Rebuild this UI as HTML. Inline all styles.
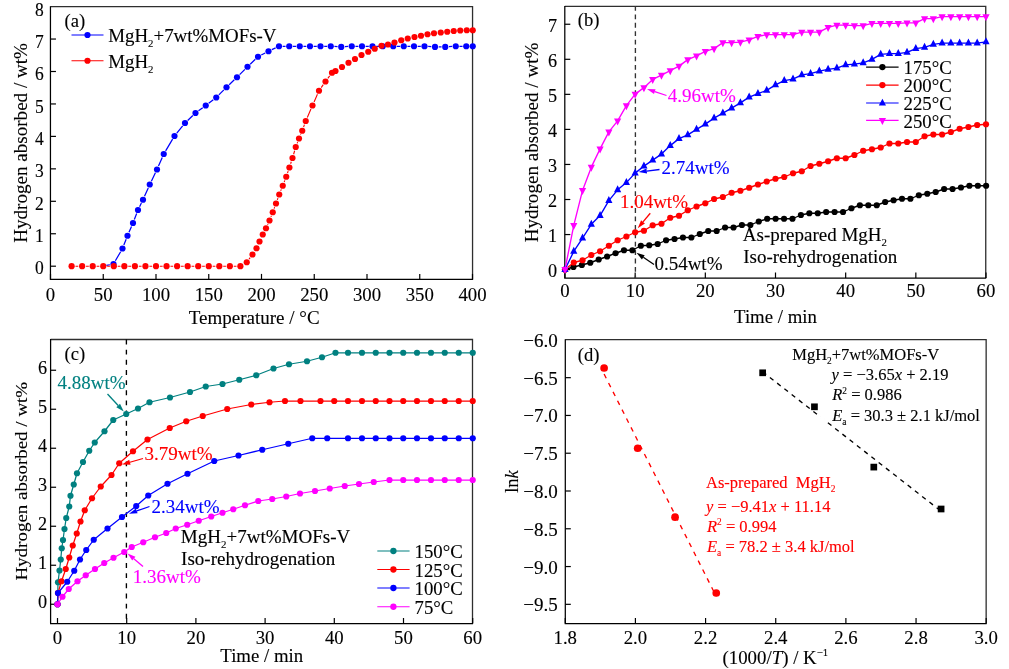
<!DOCTYPE html>
<html><head><meta charset="utf-8"><title>figure</title>
<style>html,body{margin:0;padding:0;background:#fff;}body{width:1009px;height:669px;overflow:hidden;font-family:"Liberation Serif",serif;}svg{display:block;will-change:transform;}</style>
</head><body>
<svg width="1009" height="669" viewBox="0 0 1009 669" font-family="Liberation Serif, serif">
<rect width="1009" height="669" fill="#fff"/>
<g id="pa">
<path d="M50.45 6.7H472.55V279.4" fill="none" stroke="#2e2e2e" stroke-width="1.3"/>
<path d="M50.45 6.2V279.4H473.05" fill="none" stroke="#000" stroke-width="1.25"/>
<line x1="50.5" y1="279.4" x2="50.5" y2="273.9" stroke="#000000" stroke-width="1.2" />
<text transform="translate(50.5,300.5) scale(1,1)" font-size="18.8" fill="#000000" stroke="#000000" stroke-width="0.12" text-anchor="middle">0</text>
<line x1="103.25" y1="279.4" x2="103.25" y2="273.9" stroke="#000000" stroke-width="1.2" />
<text transform="translate(103.25,300.5) scale(1,1)" font-size="18.8" fill="#000000" stroke="#000000" stroke-width="0.12" text-anchor="middle">50</text>
<line x1="156" y1="279.4" x2="156" y2="273.9" stroke="#000000" stroke-width="1.2" />
<text transform="translate(156,300.5) scale(1,1)" font-size="18.8" fill="#000000" stroke="#000000" stroke-width="0.12" text-anchor="middle">100</text>
<line x1="208.75" y1="279.4" x2="208.75" y2="273.9" stroke="#000000" stroke-width="1.2" />
<text transform="translate(208.75,300.5) scale(1,1)" font-size="18.8" fill="#000000" stroke="#000000" stroke-width="0.12" text-anchor="middle">150</text>
<line x1="261.5" y1="279.4" x2="261.5" y2="273.9" stroke="#000000" stroke-width="1.2" />
<text transform="translate(261.5,300.5) scale(1,1)" font-size="18.8" fill="#000000" stroke="#000000" stroke-width="0.12" text-anchor="middle">200</text>
<line x1="314.25" y1="279.4" x2="314.25" y2="273.9" stroke="#000000" stroke-width="1.2" />
<text transform="translate(314.25,300.5) scale(1,1)" font-size="18.8" fill="#000000" stroke="#000000" stroke-width="0.12" text-anchor="middle">250</text>
<line x1="367" y1="279.4" x2="367" y2="273.9" stroke="#000000" stroke-width="1.2" />
<text transform="translate(367,300.5) scale(1,1)" font-size="18.8" fill="#000000" stroke="#000000" stroke-width="0.12" text-anchor="middle">300</text>
<line x1="419.75" y1="279.4" x2="419.75" y2="273.9" stroke="#000000" stroke-width="1.2" />
<text transform="translate(419.75,300.5) scale(1,1)" font-size="18.8" fill="#000000" stroke="#000000" stroke-width="0.12" text-anchor="middle">350</text>
<line x1="472.5" y1="279.4" x2="472.5" y2="273.9" stroke="#000000" stroke-width="1.2" />
<text transform="translate(472.5,300.5) scale(1,1)" font-size="18.8" fill="#000000" stroke="#000000" stroke-width="0.12" text-anchor="middle">400</text>
<line x1="50.45" y1="266.2" x2="55.95" y2="266.2" stroke="#000000" stroke-width="1.2" />
<text transform="translate(43.8,274.41) scale(1,1.1)" font-size="17.5" fill="#000000" stroke="#000000" stroke-width="0.12" text-anchor="end">0</text>
<line x1="50.45" y1="233.75" x2="55.95" y2="233.75" stroke="#000000" stroke-width="1.2" />
<text transform="translate(43.8,242.07) scale(1,1.1)" font-size="17.5" fill="#000000" stroke="#000000" stroke-width="0.12" text-anchor="end">1</text>
<line x1="50.45" y1="201.3" x2="55.95" y2="201.3" stroke="#000000" stroke-width="1.2" />
<text transform="translate(43.8,209.73) scale(1,1.1)" font-size="17.5" fill="#000000" stroke="#000000" stroke-width="0.12" text-anchor="end">2</text>
<line x1="50.45" y1="168.85" x2="55.95" y2="168.85" stroke="#000000" stroke-width="1.2" />
<text transform="translate(43.8,177.39) scale(1,1.1)" font-size="17.5" fill="#000000" stroke="#000000" stroke-width="0.12" text-anchor="end">3</text>
<line x1="50.45" y1="136.4" x2="55.95" y2="136.4" stroke="#000000" stroke-width="1.2" />
<text transform="translate(43.8,145.05) scale(1,1.1)" font-size="17.5" fill="#000000" stroke="#000000" stroke-width="0.12" text-anchor="end">4</text>
<line x1="50.45" y1="103.95" x2="55.95" y2="103.95" stroke="#000000" stroke-width="1.2" />
<text transform="translate(43.8,112.71) scale(1,1.1)" font-size="17.5" fill="#000000" stroke="#000000" stroke-width="0.12" text-anchor="end">5</text>
<line x1="50.45" y1="71.5" x2="55.95" y2="71.5" stroke="#000000" stroke-width="1.2" />
<text transform="translate(43.8,80.37) scale(1,1.1)" font-size="17.5" fill="#000000" stroke="#000000" stroke-width="0.12" text-anchor="end">6</text>
<line x1="50.45" y1="39.05" x2="55.95" y2="39.05" stroke="#000000" stroke-width="1.2" />
<text transform="translate(43.8,48.03) scale(1,1.1)" font-size="17.5" fill="#000000" stroke="#000000" stroke-width="0.12" text-anchor="end">7</text>
<text transform="translate(43.8,15.69) scale(1,1.1)" font-size="17.5" fill="#000000" stroke="#000000" stroke-width="0.12" text-anchor="end">8</text>
<text transform="translate(254.2,324) scale(1,1)" font-size="19" fill="#000000" stroke="#000000" stroke-width="0.12" text-anchor="middle">Temperature / °C</text>
<text transform="translate(27,142.9) rotate(-90) scale(1,0.95)" font-size="19.1" fill="#000000" stroke="#000000" stroke-width="0.12" text-anchor="middle">Hydrogen absorbed / wt%</text>
<path d="M106.37 265.46L109.88 264.74M115.36 260.8L120.64 251.7M123.85 245.06L126.15 239.19M128.97 232.35L131.53 226.4M134.33 219.55L136.67 213.45M139.62 206.67L141.38 203.08M144.5 196.37L148.25 187.88M151.36 181.17L155.39 172.83M158.48 166.11L162.27 157.39M165.65 150.82L172.6 139.18M176.82 133.12L182.68 125.88M187.68 120.45L192.82 115.55M198.49 110.82L202.76 107.68M208.69 103.26L213.31 99.74M218.87 94.88L223.88 89.87M229.18 84.7L234.32 79.8M239.62 74.63L244.88 69.37M250.18 64.2L255.32 59.3M261.28 55.03L265.22 52.97M271.84 49.66L275.66 47.84M282.7 46.25L285.55 46.25M292.95 46.25L296.05 46.25M303.45 46.25L306.3 46.25M313.7 46.25L316.8 46.25M324.2 46.25L327.05 46.25M334.44 46.48L337.56 46.67M344.94 46.67L348.06 46.48M355.45 46.25L358.3 46.25M365.7 46.25L368.8 46.25M376.2 46.25L379.05 46.25M386.45 46.25L389.55 46.25M396.95 46.25L400.05 46.25M407.45 46.25L410.3 46.25M417.7 46.25L420.8 46.25M428.19 46.48L431.31 46.67M438.7 46.9L441.55 46.9M448.94 46.67L452.06 46.48M459.45 46.25L462.55 46.25" fill="none" stroke="#0000ff" stroke-width="1.25"/>
<g fill="#0000ff"><circle cx="113.5" cy="264" r="3.1"/><circle cx="122.5" cy="248.5" r="3.1"/><circle cx="127.5" cy="235.75" r="3.1"/><circle cx="133" cy="223" r="3.1"/><circle cx="138" cy="210" r="3.1"/><circle cx="143" cy="199.75" r="3.1"/><circle cx="149.75" cy="184.5" r="3.1"/><circle cx="157" cy="169.5" r="3.1"/><circle cx="163.75" cy="154" r="3.1"/><circle cx="174.5" cy="136" r="3.1"/><circle cx="185" cy="123" r="3.1"/><circle cx="195.5" cy="113" r="3.1"/><circle cx="205.75" cy="105.5" r="3.1"/><circle cx="216.25" cy="97.5" r="3.1"/><circle cx="226.5" cy="87.25" r="3.1"/><circle cx="237" cy="77.25" r="3.1"/><circle cx="247.5" cy="66.75" r="3.1"/><circle cx="258" cy="56.75" r="3.1"/><circle cx="268.5" cy="51.25" r="3.1"/><circle cx="279" cy="46.25" r="3.1"/><circle cx="289.25" cy="46.25" r="3.1"/><circle cx="299.75" cy="46.25" r="3.1"/><circle cx="310" cy="46.25" r="3.1"/><circle cx="320.5" cy="46.25" r="3.1"/><circle cx="330.75" cy="46.25" r="3.1"/><circle cx="341.25" cy="46.9" r="3.1"/><circle cx="351.75" cy="46.25" r="3.1"/><circle cx="362" cy="46.25" r="3.1"/><circle cx="372.5" cy="46.25" r="3.1"/><circle cx="382.75" cy="46.25" r="3.1"/><circle cx="393.25" cy="46.25" r="3.1"/><circle cx="403.75" cy="46.25" r="3.1"/><circle cx="414" cy="46.25" r="3.1"/><circle cx="424.5" cy="46.25" r="3.1"/><circle cx="435" cy="46.9" r="3.1"/><circle cx="445.25" cy="46.9" r="3.1"/><circle cx="455.75" cy="46.25" r="3.1"/><circle cx="466.25" cy="46.25" r="3.1"/><circle cx="472.75" cy="46.25" r="3.1"/></g>
<path d="M75.5 266.2L78.25 266.2M86.05 266.2L88.8 266.2M96.6 266.2L99.35 266.2M107.15 266.2L109.9 266.2M117.7 266.2L120.45 266.2M128.25 266.2L131 266.2M138.8 266.2L141.55 266.2M149.35 266.2L152.1 266.2M159.9 266.2L162.65 266.2M170.45 266.2L173.2 266.2M181 266.2L183.75 266.2M191.55 266.2L194.3 266.2M202.1 266.2L204.85 266.2M212.65 266.2L215.4 266.2M223.2 266.2L225.95 266.2M233.75 266.2L236.5 266.2M249.07 259.12L250.18 257.63M267.61 224.7L267.89 224.05M270.93 216.87L271.32 215.88M274.11 208.59L274.64 207.16M277.32 199.83L277.93 198.17M280.7 190.88L281.3 189.37M284.16 182.12L284.84 180.38M287.51 173.06L288.14 171.19M290.61 163.79L291.29 161.71M293.61 154.26L294.64 150.74M297.14 143.36L297.61 142.14M300.51 134.9L300.74 134.35M303.57 127.08L304.43 124.67M307.31 117.42L310.94 109.08M314.07 101.93L317.43 94.32M321.24 87.56L323.26 84.69M327.83 78.37L329.67 75.88" fill="none" stroke="#ff0000" stroke-width="1.1"/>
<g fill="#ff0000"><circle cx="71.6" cy="266.2" r="3.1"/><circle cx="82.15" cy="266.2" r="3.1"/><circle cx="92.7" cy="266.2" r="3.1"/><circle cx="103.25" cy="266.2" r="3.1"/><circle cx="113.8" cy="266.2" r="3.1"/><circle cx="124.35" cy="266.2" r="3.1"/><circle cx="134.9" cy="266.2" r="3.1"/><circle cx="145.45" cy="266.2" r="3.1"/><circle cx="156" cy="266.2" r="3.1"/><circle cx="166.55" cy="266.2" r="3.1"/><circle cx="177.1" cy="266.2" r="3.1"/><circle cx="187.65" cy="266.2" r="3.1"/><circle cx="198.2" cy="266.2" r="3.1"/><circle cx="208.75" cy="266.2" r="3.1"/><circle cx="219.3" cy="266.2" r="3.1"/><circle cx="229.85" cy="266.2" r="3.1"/><circle cx="240.4" cy="266.2" r="3.1"/><circle cx="246.75" cy="262.25" r="3.1"/><circle cx="252.5" cy="254.5" r="3.1"/><circle cx="256.5" cy="248.25" r="3.1"/><circle cx="259.5" cy="241.5" r="3.1"/><circle cx="262.75" cy="234.5" r="3.1"/><circle cx="266" cy="228.25" r="3.1"/><circle cx="269.5" cy="220.5" r="3.1"/><circle cx="272.75" cy="212.25" r="3.1"/><circle cx="276" cy="203.5" r="3.1"/><circle cx="279.25" cy="194.5" r="3.1"/><circle cx="282.75" cy="185.75" r="3.1"/><circle cx="286.25" cy="176.75" r="3.1"/><circle cx="289.4" cy="167.5" r="3.1"/><circle cx="292.5" cy="158" r="3.1"/><circle cx="295.75" cy="147" r="3.1"/><circle cx="299" cy="138.5" r="3.1"/><circle cx="302.25" cy="130.75" r="3.1"/><circle cx="305.75" cy="121" r="3.1"/><circle cx="312.5" cy="105.5" r="3.1"/><circle cx="319" cy="90.75" r="3.1"/><circle cx="325.5" cy="81.5" r="3.1"/><circle cx="332" cy="72.75" r="3.1"/><circle cx="335.5" cy="71" r="3.1"/><circle cx="342" cy="67" r="3.1"/><circle cx="348.5" cy="62.75" r="3.1"/><circle cx="355" cy="59" r="3.1"/><circle cx="361.5" cy="55" r="3.1"/><circle cx="368.25" cy="51.75" r="3.1"/><circle cx="374.75" cy="48.75" r="3.1"/><circle cx="381.5" cy="45.75" r="3.1"/><circle cx="388" cy="44.5" r="3.1"/><circle cx="394.5" cy="42.5" r="3.1"/><circle cx="401.25" cy="40.25" r="3.1"/><circle cx="407.75" cy="38.5" r="3.1"/><circle cx="414.5" cy="37" r="3.1"/><circle cx="421" cy="35.75" r="3.1"/><circle cx="427.5" cy="34.25" r="3.1"/><circle cx="434" cy="33.25" r="3.1"/><circle cx="440.75" cy="32.5" r="3.1"/><circle cx="447.25" cy="31.75" r="3.1"/><circle cx="453.75" cy="31" r="3.1"/><circle cx="460.25" cy="30.5" r="3.1"/><circle cx="466.75" cy="30.25" r="3.1"/><circle cx="472.75" cy="30.25" r="3.1"/></g>
<text transform="translate(64.5,26.5) scale(1,1)" font-size="18.6" fill="#000000" stroke="#000000" stroke-width="0.12" text-anchor="start">(a)</text>
<line x1="71.5" y1="35" x2="103.5" y2="35" stroke="#0000ff" stroke-width="1.1" />
<g fill="#0000ff"><circle cx="87.5" cy="35" r="3.1"/></g>
<line x1="71.5" y1="60.75" x2="103.5" y2="60.75" stroke="#ff0000" stroke-width="1.1" />
<g fill="#ff0000"><circle cx="87.5" cy="60.75" r="3.1"/></g>
<text transform="translate(108.2,42.1) scale(1,1)" font-size="18.9" fill="#000000" stroke="#000000" stroke-width="0.12" text-anchor="start">MgH<tspan font-size="10.77" dy="4.82">2</tspan><tspan dy="-4.82" font-size="18.9">&#8203;</tspan>+7wt%MOFs-V</text>
<text transform="translate(108.2,67.8) scale(1,1)" font-size="18.9" fill="#000000" stroke="#000000" stroke-width="0.12" text-anchor="start">MgH<tspan font-size="10.77" dy="4.82">2</tspan><tspan dy="-4.82" font-size="18.9">&#8203;</tspan></text>
</g>
<g id="pb">
<path d="M564.8 6.4H985.75V278" fill="none" stroke="#2e2e2e" stroke-width="1.3"/>
<path d="M564.8 5.9V278H986.25" fill="none" stroke="#000" stroke-width="1.25"/>
<line x1="565" y1="278" x2="565" y2="272.5" stroke="#000000" stroke-width="1.2" />
<text transform="translate(565,297) scale(1,1)" font-size="18.8" fill="#000000" stroke="#000000" stroke-width="0.12" text-anchor="middle">0</text>
<line x1="635.17" y1="278" x2="635.17" y2="272.5" stroke="#000000" stroke-width="1.2" />
<text transform="translate(635.17,297) scale(1,1)" font-size="18.8" fill="#000000" stroke="#000000" stroke-width="0.12" text-anchor="middle">10</text>
<line x1="705.33" y1="278" x2="705.33" y2="272.5" stroke="#000000" stroke-width="1.2" />
<text transform="translate(705.33,297) scale(1,1)" font-size="18.8" fill="#000000" stroke="#000000" stroke-width="0.12" text-anchor="middle">20</text>
<line x1="775.5" y1="278" x2="775.5" y2="272.5" stroke="#000000" stroke-width="1.2" />
<text transform="translate(775.5,297) scale(1,1)" font-size="18.8" fill="#000000" stroke="#000000" stroke-width="0.12" text-anchor="middle">30</text>
<line x1="845.67" y1="278" x2="845.67" y2="272.5" stroke="#000000" stroke-width="1.2" />
<text transform="translate(845.67,297) scale(1,1)" font-size="18.8" fill="#000000" stroke="#000000" stroke-width="0.12" text-anchor="middle">40</text>
<line x1="915.84" y1="278" x2="915.84" y2="272.5" stroke="#000000" stroke-width="1.2" />
<text transform="translate(915.84,297) scale(1,1)" font-size="18.8" fill="#000000" stroke="#000000" stroke-width="0.12" text-anchor="middle">50</text>
<line x1="986" y1="278" x2="986" y2="272.5" stroke="#000000" stroke-width="1.2" />
<text transform="translate(986,297) scale(1,1)" font-size="18.8" fill="#000000" stroke="#000000" stroke-width="0.12" text-anchor="middle">60</text>
<line x1="564.8" y1="269.6" x2="570.3" y2="269.6" stroke="#000000" stroke-width="1.2" />
<text transform="translate(557.1,277.05) scale(1.04,1.09)" font-size="17.5" fill="#000000" stroke="#000000" stroke-width="0.12" text-anchor="end">0</text>
<line x1="564.8" y1="234.55" x2="570.3" y2="234.55" stroke="#000000" stroke-width="1.2" />
<text transform="translate(557.1,242) scale(1.04,1.09)" font-size="17.5" fill="#000000" stroke="#000000" stroke-width="0.12" text-anchor="end">1</text>
<line x1="564.8" y1="199.5" x2="570.3" y2="199.5" stroke="#000000" stroke-width="1.2" />
<text transform="translate(557.1,206.95) scale(1.04,1.09)" font-size="17.5" fill="#000000" stroke="#000000" stroke-width="0.12" text-anchor="end">2</text>
<line x1="564.8" y1="164.45" x2="570.3" y2="164.45" stroke="#000000" stroke-width="1.2" />
<text transform="translate(557.1,171.9) scale(1.04,1.09)" font-size="17.5" fill="#000000" stroke="#000000" stroke-width="0.12" text-anchor="end">3</text>
<line x1="564.8" y1="129.4" x2="570.3" y2="129.4" stroke="#000000" stroke-width="1.2" />
<text transform="translate(557.1,136.85) scale(1.04,1.09)" font-size="17.5" fill="#000000" stroke="#000000" stroke-width="0.12" text-anchor="end">4</text>
<line x1="564.8" y1="94.35" x2="570.3" y2="94.35" stroke="#000000" stroke-width="1.2" />
<text transform="translate(557.1,101.8) scale(1.04,1.09)" font-size="17.5" fill="#000000" stroke="#000000" stroke-width="0.12" text-anchor="end">5</text>
<line x1="564.8" y1="59.3" x2="570.3" y2="59.3" stroke="#000000" stroke-width="1.2" />
<text transform="translate(557.1,66.75) scale(1.04,1.09)" font-size="17.5" fill="#000000" stroke="#000000" stroke-width="0.12" text-anchor="end">6</text>
<line x1="564.8" y1="24.25" x2="570.3" y2="24.25" stroke="#000000" stroke-width="1.2" />
<text transform="translate(557.1,31.7) scale(1.04,1.09)" font-size="17.5" fill="#000000" stroke="#000000" stroke-width="0.12" text-anchor="end">7</text>
<text transform="translate(775.5,323.2) scale(1,1)" font-size="18.8" fill="#000000" stroke="#000000" stroke-width="0.12" text-anchor="middle">Time / min</text>
<text transform="translate(538.2,142.5) rotate(-90) scale(1,0.94)" font-size="19.1" fill="#000000" stroke="#000000" stroke-width="0.12" text-anchor="middle">Hydrogen absorbed / wt%</text>
<line x1="635.4" y1="6.4" x2="635.4" y2="278" stroke="#333" stroke-width="1.35" stroke-dasharray="4.8 3.62" stroke-dashoffset="0.4"/>
<polyline points="565,269.5 573.42,267 581.85,265 590.27,262.75 598.7,259.5 607.12,256.5 615.55,253.25 623.98,250.25 632.4,250.25 640.83,245.75 649.25,245.25 657.67,244 666.1,240.25 674.52,239 682.95,237.5 691.38,237.5 699.8,234 708.23,231 716.65,231 725.08,227.5 733.5,227.5 741.92,225 750.35,225 758.77,221.5 767.2,218.75 775.62,218.75 784.05,218.75 792.48,218.75 800.9,215 809.33,213.25 817.75,213.25 826.17,212 834.6,212 843.03,212 851.45,208.25 859.88,205.25 868.3,205.25 876.73,205.25 885.15,202 893.58,200.25 902,198.75 910.42,198.75 918.85,195.25 927.28,193.75 935.7,192 944.12,189 952.55,189 960.98,187.5 969.4,185.75 977.83,185.75 986.1,185.75" fill="none" stroke="#000000" stroke-width="1.35" stroke-linejoin="round"/>
<g fill="#000000"><circle cx="565" cy="269.5" r="3.1"/><circle cx="573.42" cy="267" r="3.1"/><circle cx="581.85" cy="265" r="3.1"/><circle cx="590.27" cy="262.75" r="3.1"/><circle cx="598.7" cy="259.5" r="3.1"/><circle cx="607.12" cy="256.5" r="3.1"/><circle cx="615.55" cy="253.25" r="3.1"/><circle cx="623.98" cy="250.25" r="3.1"/><circle cx="632.4" cy="250.25" r="3.1"/><circle cx="640.83" cy="245.75" r="3.1"/><circle cx="649.25" cy="245.25" r="3.1"/><circle cx="657.67" cy="244" r="3.1"/><circle cx="666.1" cy="240.25" r="3.1"/><circle cx="674.52" cy="239" r="3.1"/><circle cx="682.95" cy="237.5" r="3.1"/><circle cx="691.38" cy="237.5" r="3.1"/><circle cx="699.8" cy="234" r="3.1"/><circle cx="708.23" cy="231" r="3.1"/><circle cx="716.65" cy="231" r="3.1"/><circle cx="725.08" cy="227.5" r="3.1"/><circle cx="733.5" cy="227.5" r="3.1"/><circle cx="741.92" cy="225" r="3.1"/><circle cx="750.35" cy="225" r="3.1"/><circle cx="758.77" cy="221.5" r="3.1"/><circle cx="767.2" cy="218.75" r="3.1"/><circle cx="775.62" cy="218.75" r="3.1"/><circle cx="784.05" cy="218.75" r="3.1"/><circle cx="792.48" cy="218.75" r="3.1"/><circle cx="800.9" cy="215" r="3.1"/><circle cx="809.33" cy="213.25" r="3.1"/><circle cx="817.75" cy="213.25" r="3.1"/><circle cx="826.17" cy="212" r="3.1"/><circle cx="834.6" cy="212" r="3.1"/><circle cx="843.03" cy="212" r="3.1"/><circle cx="851.45" cy="208.25" r="3.1"/><circle cx="859.88" cy="205.25" r="3.1"/><circle cx="868.3" cy="205.25" r="3.1"/><circle cx="876.73" cy="205.25" r="3.1"/><circle cx="885.15" cy="202" r="3.1"/><circle cx="893.58" cy="200.25" r="3.1"/><circle cx="902" cy="198.75" r="3.1"/><circle cx="910.42" cy="198.75" r="3.1"/><circle cx="918.85" cy="195.25" r="3.1"/><circle cx="927.28" cy="193.75" r="3.1"/><circle cx="935.7" cy="192" r="3.1"/><circle cx="944.12" cy="189" r="3.1"/><circle cx="952.55" cy="189" r="3.1"/><circle cx="960.98" cy="187.5" r="3.1"/><circle cx="969.4" cy="185.75" r="3.1"/><circle cx="977.83" cy="185.75" r="3.1"/><circle cx="986.1" cy="185.75" r="3.1"/></g>
<polyline points="565,269.5 573.77,262.5 582.54,260.25 591.31,255 600.08,251.25 608.85,245.75 617.62,240.25 626.39,236.5 635.16,232.25 643.93,230.75 652.7,225.25 661.47,223.75 670.24,217.75 679.01,215.75 687.78,210.25 696.55,206.5 705.32,203.25 714.09,199 722.86,197 731.63,192.75 740.4,190.75 749.17,187.75 757.94,184.5 766.71,181.5 775.48,178.75 784.25,177 793.02,173.25 801.79,171.25 810.56,166 819.33,163.75 828.1,161.25 836.87,158.25 845.64,158.25 854.41,155 863.18,150.75 871.95,149.25 880.72,147.5 889.49,143.5 898.26,143.5 907.03,142 915.8,142 924.57,136.25 933.34,134.5 942.11,134.5 950.88,132 959.65,128.75 968.42,127 977.19,125 986,124.25" fill="none" stroke="#ff0000" stroke-width="1.35" stroke-linejoin="round"/>
<g fill="#ff0000"><circle cx="565" cy="269.5" r="3.1"/><circle cx="573.77" cy="262.5" r="3.1"/><circle cx="582.54" cy="260.25" r="3.1"/><circle cx="591.31" cy="255" r="3.1"/><circle cx="600.08" cy="251.25" r="3.1"/><circle cx="608.85" cy="245.75" r="3.1"/><circle cx="617.62" cy="240.25" r="3.1"/><circle cx="626.39" cy="236.5" r="3.1"/><circle cx="635.16" cy="232.25" r="3.1"/><circle cx="643.93" cy="230.75" r="3.1"/><circle cx="652.7" cy="225.25" r="3.1"/><circle cx="661.47" cy="223.75" r="3.1"/><circle cx="670.24" cy="217.75" r="3.1"/><circle cx="679.01" cy="215.75" r="3.1"/><circle cx="687.78" cy="210.25" r="3.1"/><circle cx="696.55" cy="206.5" r="3.1"/><circle cx="705.32" cy="203.25" r="3.1"/><circle cx="714.09" cy="199" r="3.1"/><circle cx="722.86" cy="197" r="3.1"/><circle cx="731.63" cy="192.75" r="3.1"/><circle cx="740.4" cy="190.75" r="3.1"/><circle cx="749.17" cy="187.75" r="3.1"/><circle cx="757.94" cy="184.5" r="3.1"/><circle cx="766.71" cy="181.5" r="3.1"/><circle cx="775.48" cy="178.75" r="3.1"/><circle cx="784.25" cy="177" r="3.1"/><circle cx="793.02" cy="173.25" r="3.1"/><circle cx="801.79" cy="171.25" r="3.1"/><circle cx="810.56" cy="166" r="3.1"/><circle cx="819.33" cy="163.75" r="3.1"/><circle cx="828.1" cy="161.25" r="3.1"/><circle cx="836.87" cy="158.25" r="3.1"/><circle cx="845.64" cy="158.25" r="3.1"/><circle cx="854.41" cy="155" r="3.1"/><circle cx="863.18" cy="150.75" r="3.1"/><circle cx="871.95" cy="149.25" r="3.1"/><circle cx="880.72" cy="147.5" r="3.1"/><circle cx="889.49" cy="143.5" r="3.1"/><circle cx="898.26" cy="143.5" r="3.1"/><circle cx="907.03" cy="142" r="3.1"/><circle cx="915.8" cy="142" r="3.1"/><circle cx="924.57" cy="136.25" r="3.1"/><circle cx="933.34" cy="134.5" r="3.1"/><circle cx="942.11" cy="134.5" r="3.1"/><circle cx="950.88" cy="132" r="3.1"/><circle cx="959.65" cy="128.75" r="3.1"/><circle cx="968.42" cy="127" r="3.1"/><circle cx="977.19" cy="125" r="3.1"/><circle cx="986" cy="124.25" r="3.1"/></g>
<polyline points="565,269.55 573.77,251.35 582.54,238.1 591.31,224.35 600.08,215.6 608.85,200.6 617.62,189.85 626.39,182.6 635.16,173.1 643.93,166.1 652.7,160.1 661.47,154.1 670.24,145.6 679.01,138.6 687.78,134.85 696.55,129.35 705.32,124.1 714.09,118.1 722.86,113.1 731.63,108.1 740.4,102.85 749.17,97.1 757.94,93.6 766.71,90.35 775.48,84.85 784.25,80.6 793.02,79.1 801.79,74.85 810.56,73.6 819.33,71.1 828.1,69.35 836.87,68.1 845.64,64.85 854.41,64.1 863.18,62.85 871.95,59.35 880.72,54.35 889.49,53.6 898.26,53.6 907.03,52.35 915.8,48.6 924.57,47.35 933.34,44.35 942.11,43.1 950.88,43.1 959.65,43.1 968.42,43.1 977.19,43.1 986,41.85" fill="none" stroke="#0000ff" stroke-width="1.35" stroke-linejoin="round"/>
<path d="M565 265L568.6 271.9L561.4 271.9ZM573.77 246.8L577.37 253.7L570.17 253.7ZM582.54 233.55L586.14 240.45L578.94 240.45ZM591.31 219.8L594.91 226.7L587.71 226.7ZM600.08 211.05L603.68 217.95L596.48 217.95ZM608.85 196.05L612.45 202.95L605.25 202.95ZM617.62 185.3L621.22 192.2L614.02 192.2ZM626.39 178.05L629.99 184.95L622.79 184.95ZM635.16 168.55L638.76 175.45L631.56 175.45ZM643.93 161.55L647.53 168.45L640.33 168.45ZM652.7 155.55L656.3 162.45L649.1 162.45ZM661.47 149.55L665.07 156.45L657.87 156.45ZM670.24 141.05L673.84 147.95L666.64 147.95ZM679.01 134.05L682.61 140.95L675.41 140.95ZM687.78 130.3L691.38 137.2L684.18 137.2ZM696.55 124.8L700.15 131.7L692.95 131.7ZM705.32 119.55L708.92 126.45L701.72 126.45ZM714.09 113.55L717.69 120.45L710.49 120.45ZM722.86 108.55L726.46 115.45L719.26 115.45ZM731.63 103.55L735.23 110.45L728.03 110.45ZM740.4 98.3L744 105.2L736.8 105.2ZM749.17 92.55L752.77 99.45L745.57 99.45ZM757.94 89.05L761.54 95.95L754.34 95.95ZM766.71 85.8L770.31 92.7L763.11 92.7ZM775.48 80.3L779.08 87.2L771.88 87.2ZM784.25 76.05L787.85 82.95L780.65 82.95ZM793.02 74.55L796.62 81.45L789.42 81.45ZM801.79 70.3L805.39 77.2L798.19 77.2ZM810.56 69.05L814.16 75.95L806.96 75.95ZM819.33 66.55L822.93 73.45L815.73 73.45ZM828.1 64.8L831.7 71.7L824.5 71.7ZM836.87 63.55L840.47 70.45L833.27 70.45ZM845.64 60.3L849.24 67.2L842.04 67.2ZM854.41 59.55L858.01 66.45L850.81 66.45ZM863.18 58.3L866.78 65.2L859.58 65.2ZM871.95 54.8L875.55 61.7L868.35 61.7ZM880.72 49.8L884.32 56.7L877.12 56.7ZM889.49 49.05L893.09 55.95L885.89 55.95ZM898.26 49.05L901.86 55.95L894.66 55.95ZM907.03 47.8L910.63 54.7L903.43 54.7ZM915.8 44.05L919.4 50.95L912.2 50.95ZM924.57 42.8L928.17 49.7L920.97 49.7ZM933.34 39.8L936.94 46.7L929.74 46.7ZM942.11 38.55L945.71 45.45L938.51 45.45ZM950.88 38.55L954.48 45.45L947.28 45.45ZM959.65 38.55L963.25 45.45L956.05 45.45ZM968.42 38.55L972.02 45.45L964.82 45.45ZM977.19 38.55L980.79 45.45L973.59 45.45ZM986 37.3L989.6 44.2L982.4 44.2Z" fill="#0000ff"/>
<polyline points="565,269.45 573.77,225.4 582.54,190.4 591.31,167.15 600.08,148.9 608.85,131.9 617.62,120.9 626.39,105.65 635.16,94.15 643.93,87.65 652.7,79.4 661.47,75.15 670.24,70.65 679.01,66.15 687.78,59.65 696.55,55.9 705.32,51.4 714.09,48.65 722.86,42.65 731.63,42.65 740.4,42.15 749.17,39.9 757.94,36.4 766.71,34.65 775.48,34.65 784.25,34.65 793.02,34.65 801.79,32.15 810.56,32.15 819.33,32.15 828.1,27.4 836.87,25.15 845.64,25.15 854.41,25.65 863.18,25.65 871.95,23.4 880.72,23.4 889.49,23.4 898.26,23.4 907.03,22.9 915.8,22.9 924.57,18.65 933.34,18.65 942.11,16.65 950.88,16.65 959.65,16.65 968.42,16.65 977.19,16.65 986,16.65" fill="none" stroke="#ff00ff" stroke-width="1.35" stroke-linejoin="round"/>
<path d="M565 274L568.6 267.1L561.4 267.1ZM573.77 229.95L577.37 223.05L570.17 223.05ZM582.54 194.95L586.14 188.05L578.94 188.05ZM591.31 171.7L594.91 164.8L587.71 164.8ZM600.08 153.45L603.68 146.55L596.48 146.55ZM608.85 136.45L612.45 129.55L605.25 129.55ZM617.62 125.45L621.22 118.55L614.02 118.55ZM626.39 110.2L629.99 103.3L622.79 103.3ZM635.16 98.7L638.76 91.8L631.56 91.8ZM643.93 92.2L647.53 85.3L640.33 85.3ZM652.7 83.95L656.3 77.05L649.1 77.05ZM661.47 79.7L665.07 72.8L657.87 72.8ZM670.24 75.2L673.84 68.3L666.64 68.3ZM679.01 70.7L682.61 63.8L675.41 63.8ZM687.78 64.2L691.38 57.3L684.18 57.3ZM696.55 60.45L700.15 53.55L692.95 53.55ZM705.32 55.95L708.92 49.05L701.72 49.05ZM714.09 53.2L717.69 46.3L710.49 46.3ZM722.86 47.2L726.46 40.3L719.26 40.3ZM731.63 47.2L735.23 40.3L728.03 40.3ZM740.4 46.7L744 39.8L736.8 39.8ZM749.17 44.45L752.77 37.55L745.57 37.55ZM757.94 40.95L761.54 34.05L754.34 34.05ZM766.71 39.2L770.31 32.3L763.11 32.3ZM775.48 39.2L779.08 32.3L771.88 32.3ZM784.25 39.2L787.85 32.3L780.65 32.3ZM793.02 39.2L796.62 32.3L789.42 32.3ZM801.79 36.7L805.39 29.8L798.19 29.8ZM810.56 36.7L814.16 29.8L806.96 29.8ZM819.33 36.7L822.93 29.8L815.73 29.8ZM828.1 31.95L831.7 25.05L824.5 25.05ZM836.87 29.7L840.47 22.8L833.27 22.8ZM845.64 29.7L849.24 22.8L842.04 22.8ZM854.41 30.2L858.01 23.3L850.81 23.3ZM863.18 30.2L866.78 23.3L859.58 23.3ZM871.95 27.95L875.55 21.05L868.35 21.05ZM880.72 27.95L884.32 21.05L877.12 21.05ZM889.49 27.95L893.09 21.05L885.89 21.05ZM898.26 27.95L901.86 21.05L894.66 21.05ZM907.03 27.45L910.63 20.55L903.43 20.55ZM915.8 27.45L919.4 20.55L912.2 20.55ZM924.57 23.2L928.17 16.3L920.97 16.3ZM933.34 23.2L936.94 16.3L929.74 16.3ZM942.11 21.2L945.71 14.3L938.51 14.3ZM950.88 21.2L954.48 14.3L947.28 14.3ZM959.65 21.2L963.25 14.3L956.05 14.3ZM968.42 21.2L972.02 14.3L964.82 14.3ZM977.19 21.2L980.79 14.3L973.59 14.3ZM986 21.2L989.6 14.3L982.4 14.3Z" fill="#ff00ff"/>
<text transform="translate(577.75,26.25) scale(1,1)" font-size="18.6" fill="#000000" stroke="#000000" stroke-width="0.12" text-anchor="start">(b)</text>
<text transform="translate(667.75,102.4) scale(1,1)" font-size="19" fill="#ff00ff" stroke="#ff00ff" stroke-width="0.12" text-anchor="start">4.96wt%</text>
<line x1="666.5" y1="95.5" x2="654.79" y2="91.66" stroke="#ff00ff" stroke-width="1.3" />
<path d="M647 89.1L655.57 89.28L654.01 94.03Z" fill="#ff00ff"/>
<text transform="translate(661.5,173.5) scale(1,1)" font-size="19" fill="#0000ff" stroke="#0000ff" stroke-width="0.12" text-anchor="start">2.74wt%</text>
<line x1="659.5" y1="169.5" x2="646.74" y2="171.03" stroke="#0000ff" stroke-width="1.3" />
<path d="M638.6 172L646.45 168.54L647.04 173.51Z" fill="#0000ff"/>
<text transform="translate(619.9,207.75) scale(1,1)" font-size="19" fill="#ff0000" stroke="#ff0000" stroke-width="0.12" text-anchor="start">1.04wt%</text>
<line x1="650.25" y1="213.25" x2="643" y2="221.95" stroke="#ff0000" stroke-width="1.3" />
<path d="M637.75 228.25L641.08 220.35L644.92 223.55Z" fill="#ff0000"/>
<text transform="translate(654.4,270.25) scale(1,1)" font-size="19" fill="#000000" stroke="#000000" stroke-width="0.12" text-anchor="start">0.54wt%</text>
<line x1="654" y1="264.5" x2="643.31" y2="257.32" stroke="#000000" stroke-width="1.3" />
<path d="M636.5 252.75L644.7 255.25L641.91 259.4Z" fill="#000000"/>
<text transform="translate(742.8,240.75) scale(1,1)" font-size="19" fill="#000000" stroke="#000000" stroke-width="0.12" text-anchor="start">As-prepared MgH<tspan font-size="10.83" dy="4.84">2</tspan><tspan dy="-4.84" font-size="19">&#8203;</tspan></text>
<text transform="translate(743.2,263.25) scale(1,1)" font-size="19" fill="#000000" stroke="#000000" stroke-width="0.12" text-anchor="start">Iso-rehydrogenation</text>
<line x1="866.1" y1="67.1" x2="898.6" y2="67.1" stroke="#000000" stroke-width="1.15" />
<g fill="#000000"><circle cx="882.4" cy="67.1" r="3.15"/></g>
<text transform="translate(903.5,73.9) scale(1,1)" font-size="18.8" fill="#000000" stroke="#000000" stroke-width="0.12" text-anchor="start">175°C</text>
<line x1="866.1" y1="85.1" x2="898.6" y2="85.1" stroke="#ff0000" stroke-width="1.15" />
<g fill="#ff0000"><circle cx="882.4" cy="85.1" r="3.15"/></g>
<text transform="translate(903.5,92.15) scale(1,1)" font-size="18.8" fill="#000000" stroke="#000000" stroke-width="0.12" text-anchor="start">200°C</text>
<line x1="866.1" y1="103" x2="898.6" y2="103" stroke="#0000ff" stroke-width="1.15" />
<path d="M882.4 98.65L886 105.55L878.8 105.55Z" fill="#0000ff"/>
<text transform="translate(903.5,109.65) scale(1,1)" font-size="18.8" fill="#000000" stroke="#000000" stroke-width="0.12" text-anchor="start">225°C</text>
<line x1="866.1" y1="120.4" x2="898.6" y2="120.4" stroke="#ff00ff" stroke-width="1.15" />
<path d="M882.4 124.95L886 118.05L878.8 118.05Z" fill="#ff00ff"/>
<text transform="translate(903.5,127.9) scale(1,1)" font-size="18.8" fill="#000000" stroke="#000000" stroke-width="0.12" text-anchor="start">250°C</text>
</g>
<g id="pc">
<path d="M50.6 339.5H472.5V623.5" fill="none" stroke="#2e2e2e" stroke-width="1.3"/>
<path d="M50.6 339V623.5H473" fill="none" stroke="#000" stroke-width="1.25"/>
<line x1="57.5" y1="623.5" x2="57.5" y2="618" stroke="#000000" stroke-width="1.2" />
<text transform="translate(57.5,643.5) scale(1,1)" font-size="18.8" fill="#000000" stroke="#000000" stroke-width="0.12" text-anchor="middle">0</text>
<line x1="126.7" y1="623.5" x2="126.7" y2="618" stroke="#000000" stroke-width="1.2" />
<text transform="translate(126.7,643.5) scale(1,1)" font-size="18.8" fill="#000000" stroke="#000000" stroke-width="0.12" text-anchor="middle">10</text>
<line x1="195.9" y1="623.5" x2="195.9" y2="618" stroke="#000000" stroke-width="1.2" />
<text transform="translate(195.9,643.5) scale(1,1)" font-size="18.8" fill="#000000" stroke="#000000" stroke-width="0.12" text-anchor="middle">20</text>
<line x1="265.1" y1="623.5" x2="265.1" y2="618" stroke="#000000" stroke-width="1.2" />
<text transform="translate(265.1,643.5) scale(1,1)" font-size="18.8" fill="#000000" stroke="#000000" stroke-width="0.12" text-anchor="middle">30</text>
<line x1="334.3" y1="623.5" x2="334.3" y2="618" stroke="#000000" stroke-width="1.2" />
<text transform="translate(334.3,643.5) scale(1,1)" font-size="18.8" fill="#000000" stroke="#000000" stroke-width="0.12" text-anchor="middle">40</text>
<line x1="403.5" y1="623.5" x2="403.5" y2="618" stroke="#000000" stroke-width="1.2" />
<text transform="translate(403.5,643.5) scale(1,1)" font-size="18.8" fill="#000000" stroke="#000000" stroke-width="0.12" text-anchor="middle">50</text>
<line x1="472.7" y1="623.5" x2="472.7" y2="618" stroke="#000000" stroke-width="1.2" />
<text transform="translate(472.7,643.5) scale(1,1)" font-size="18.8" fill="#000000" stroke="#000000" stroke-width="0.12" text-anchor="middle">60</text>
<line x1="50.6" y1="604.25" x2="56.1" y2="604.25" stroke="#000000" stroke-width="1.2" />
<text transform="translate(47.1,608.26) scale(1.04,1.1)" font-size="17.5" fill="#000000" stroke="#000000" stroke-width="0.12" text-anchor="end">0</text>
<line x1="50.6" y1="565.25" x2="56.1" y2="565.25" stroke="#000000" stroke-width="1.2" />
<text transform="translate(47.1,569.26) scale(1.04,1.1)" font-size="17.5" fill="#000000" stroke="#000000" stroke-width="0.12" text-anchor="end">1</text>
<line x1="50.6" y1="526.25" x2="56.1" y2="526.25" stroke="#000000" stroke-width="1.2" />
<text transform="translate(47.1,530.26) scale(1.04,1.1)" font-size="17.5" fill="#000000" stroke="#000000" stroke-width="0.12" text-anchor="end">2</text>
<line x1="50.6" y1="487.25" x2="56.1" y2="487.25" stroke="#000000" stroke-width="1.2" />
<text transform="translate(47.1,491.26) scale(1.04,1.1)" font-size="17.5" fill="#000000" stroke="#000000" stroke-width="0.12" text-anchor="end">3</text>
<line x1="50.6" y1="448.25" x2="56.1" y2="448.25" stroke="#000000" stroke-width="1.2" />
<text transform="translate(47.1,452.26) scale(1.04,1.1)" font-size="17.5" fill="#000000" stroke="#000000" stroke-width="0.12" text-anchor="end">4</text>
<line x1="50.6" y1="409.25" x2="56.1" y2="409.25" stroke="#000000" stroke-width="1.2" />
<text transform="translate(47.1,413.26) scale(1.04,1.1)" font-size="17.5" fill="#000000" stroke="#000000" stroke-width="0.12" text-anchor="end">5</text>
<line x1="50.6" y1="370.25" x2="56.1" y2="370.25" stroke="#000000" stroke-width="1.2" />
<text transform="translate(47.1,374.26) scale(1.04,1.1)" font-size="17.5" fill="#000000" stroke="#000000" stroke-width="0.12" text-anchor="end">6</text>
<text transform="translate(261.75,662.4) scale(1,1)" font-size="18.8" fill="#000000" stroke="#000000" stroke-width="0.12" text-anchor="middle">Time / min</text>
<text transform="translate(27.2,481.2) rotate(-90) scale(1,0.9)" font-size="19.0" fill="#000000" stroke="#000000" stroke-width="0.12" text-anchor="middle">Hydrogen absorbed / wt%</text>
<line x1="126.4" y1="339.5" x2="126.4" y2="623.5" stroke="#000" stroke-width="1.35" stroke-dasharray="4.9 5.26" stroke-dashoffset="0"/>
<polyline points="57.5,604.25 58,582.25 59.5,570.5 60.75,559.5 61.75,548.25 63,540 64.5,529 66.25,518 69.25,506.5 70.5,495.75 73.75,484.5 77,473.25 83,462 89.25,450.75 94.75,442.5 104.5,431.25 113.25,420 126.25,414 138,408.5 149.5,402.25 170,397.5 190,392 205.75,386.5 222.5,384 239.25,379.75 256.25,375.25 273.5,368.5 289,364.25 307,361.25 322,357.25 335.5,352.75 348,352.75 362,352.75 375.75,352.75 389.5,352.75 403.25,352.75 417,352.75 431,352.75 444.75,352.75 458.75,352.75 472.75,352.75" fill="none" stroke="#008080" stroke-width="1.25" stroke-linejoin="round"/>
<g fill="#008080"><circle cx="57.5" cy="604.25" r="3.1"/><circle cx="58" cy="582.25" r="3.1"/><circle cx="59.5" cy="570.5" r="3.1"/><circle cx="60.75" cy="559.5" r="3.1"/><circle cx="61.75" cy="548.25" r="3.1"/><circle cx="63" cy="540" r="3.1"/><circle cx="64.5" cy="529" r="3.1"/><circle cx="66.25" cy="518" r="3.1"/><circle cx="69.25" cy="506.5" r="3.1"/><circle cx="70.5" cy="495.75" r="3.1"/><circle cx="73.75" cy="484.5" r="3.1"/><circle cx="77" cy="473.25" r="3.1"/><circle cx="83" cy="462" r="3.1"/><circle cx="89.25" cy="450.75" r="3.1"/><circle cx="94.75" cy="442.5" r="3.1"/><circle cx="104.5" cy="431.25" r="3.1"/><circle cx="113.25" cy="420" r="3.1"/><circle cx="126.25" cy="414" r="3.1"/><circle cx="138" cy="408.5" r="3.1"/><circle cx="149.5" cy="402.25" r="3.1"/><circle cx="170" cy="397.5" r="3.1"/><circle cx="190" cy="392" r="3.1"/><circle cx="205.75" cy="386.5" r="3.1"/><circle cx="222.5" cy="384" r="3.1"/><circle cx="239.25" cy="379.75" r="3.1"/><circle cx="256.25" cy="375.25" r="3.1"/><circle cx="273.5" cy="368.5" r="3.1"/><circle cx="289" cy="364.25" r="3.1"/><circle cx="307" cy="361.25" r="3.1"/><circle cx="322" cy="357.25" r="3.1"/><circle cx="335.5" cy="352.75" r="3.1"/><circle cx="348" cy="352.75" r="3.1"/><circle cx="362" cy="352.75" r="3.1"/><circle cx="375.75" cy="352.75" r="3.1"/><circle cx="389.5" cy="352.75" r="3.1"/><circle cx="403.25" cy="352.75" r="3.1"/><circle cx="417" cy="352.75" r="3.1"/><circle cx="431" cy="352.75" r="3.1"/><circle cx="444.75" cy="352.75" r="3.1"/><circle cx="458.75" cy="352.75" r="3.1"/><circle cx="472.75" cy="352.75" r="3.1"/></g>
<polyline points="57.5,604.25 58,593 61.5,581.25 65.75,569 69.25,557.5 72.75,545.5 76.75,533.5 80.5,521.5 84.75,510.25 92,498.25 100.75,486.5 111.5,475 119.25,463.25 133,451.25 147.5,439.5 169.75,428 186.25,421.25 202.75,416 227.25,409 251.25,404.5 269.5,402.25 285,401 300.5,401 320.5,401 334.25,401 348,401 362,401 375.75,401 389.5,401 403.25,401 417,401 431,401 444.75,401 458.75,401 472.75,401" fill="none" stroke="#ff0000" stroke-width="1.25" stroke-linejoin="round"/>
<g fill="#ff0000"><circle cx="57.5" cy="604.25" r="3.1"/><circle cx="58" cy="593" r="3.1"/><circle cx="61.5" cy="581.25" r="3.1"/><circle cx="65.75" cy="569" r="3.1"/><circle cx="69.25" cy="557.5" r="3.1"/><circle cx="72.75" cy="545.5" r="3.1"/><circle cx="76.75" cy="533.5" r="3.1"/><circle cx="80.5" cy="521.5" r="3.1"/><circle cx="84.75" cy="510.25" r="3.1"/><circle cx="92" cy="498.25" r="3.1"/><circle cx="100.75" cy="486.5" r="3.1"/><circle cx="111.5" cy="475" r="3.1"/><circle cx="119.25" cy="463.25" r="3.1"/><circle cx="133" cy="451.25" r="3.1"/><circle cx="147.5" cy="439.5" r="3.1"/><circle cx="169.75" cy="428" r="3.1"/><circle cx="186.25" cy="421.25" r="3.1"/><circle cx="202.75" cy="416" r="3.1"/><circle cx="227.25" cy="409" r="3.1"/><circle cx="251.25" cy="404.5" r="3.1"/><circle cx="269.5" cy="402.25" r="3.1"/><circle cx="285" cy="401" r="3.1"/><circle cx="300.5" cy="401" r="3.1"/><circle cx="320.5" cy="401" r="3.1"/><circle cx="334.25" cy="401" r="3.1"/><circle cx="348" cy="401" r="3.1"/><circle cx="362" cy="401" r="3.1"/><circle cx="375.75" cy="401" r="3.1"/><circle cx="389.5" cy="401" r="3.1"/><circle cx="403.25" cy="401" r="3.1"/><circle cx="417" cy="401" r="3.1"/><circle cx="431" cy="401" r="3.1"/><circle cx="444.75" cy="401" r="3.1"/><circle cx="458.75" cy="401" r="3.1"/><circle cx="472.75" cy="401" r="3.1"/></g>
<polyline points="57.5,604.25 58,593 67.25,581.75 74.25,570.75 80,559.5 86.25,550 93.75,539.75 107.5,528.5 122,517 136.25,506 148.25,495.5 167.5,483.75 187.5,473.75 214.25,461 238.5,455.5 262.25,449.75 288.25,443.75 312.25,438.25 327.25,438.25 348,438.25 362,438.25 375.75,438.25 389.5,438.25 403.25,438.25 417,438.25 431,438.25 444.75,438.25 458.75,438.25 472.75,438.25" fill="none" stroke="#0000ff" stroke-width="1.25" stroke-linejoin="round"/>
<g fill="#0000ff"><circle cx="57.5" cy="604.25" r="3.1"/><circle cx="58" cy="593" r="3.1"/><circle cx="67.25" cy="581.75" r="3.1"/><circle cx="74.25" cy="570.75" r="3.1"/><circle cx="80" cy="559.5" r="3.1"/><circle cx="86.25" cy="550" r="3.1"/><circle cx="93.75" cy="539.75" r="3.1"/><circle cx="107.5" cy="528.5" r="3.1"/><circle cx="122" cy="517" r="3.1"/><circle cx="136.25" cy="506" r="3.1"/><circle cx="148.25" cy="495.5" r="3.1"/><circle cx="167.5" cy="483.75" r="3.1"/><circle cx="187.5" cy="473.75" r="3.1"/><circle cx="214.25" cy="461" r="3.1"/><circle cx="238.5" cy="455.5" r="3.1"/><circle cx="262.25" cy="449.75" r="3.1"/><circle cx="288.25" cy="443.75" r="3.1"/><circle cx="312.25" cy="438.25" r="3.1"/><circle cx="327.25" cy="438.25" r="3.1"/><circle cx="348" cy="438.25" r="3.1"/><circle cx="362" cy="438.25" r="3.1"/><circle cx="375.75" cy="438.25" r="3.1"/><circle cx="389.5" cy="438.25" r="3.1"/><circle cx="403.25" cy="438.25" r="3.1"/><circle cx="417" cy="438.25" r="3.1"/><circle cx="431" cy="438.25" r="3.1"/><circle cx="444.75" cy="438.25" r="3.1"/><circle cx="458.75" cy="438.25" r="3.1"/><circle cx="472.75" cy="438.25" r="3.1"/></g>
<polyline points="57.5,604.25 62.5,596.75 68.75,589 77.5,581.25 85.75,575.25 95,569 104.25,563 113.5,557.75 124.25,552 131.75,547 143.25,542.25 155,537.25 166.25,533 175.75,528.5 187.25,524.75 198.75,520.75 211.25,516.5 222.5,512.75 233.25,509.25 245,505.25 258.25,501 272.25,499 286.25,496.5 300,493.5 315,491 329.75,488.5 344.75,486 359,484 373.75,482 389.5,480 403.25,480 417,480 431,480 444.75,480 458.75,480 472.75,480" fill="none" stroke="#ff00ff" stroke-width="1.25" stroke-linejoin="round"/>
<g fill="#ff00ff"><circle cx="57.5" cy="604.25" r="3.1"/><circle cx="62.5" cy="596.75" r="3.1"/><circle cx="68.75" cy="589" r="3.1"/><circle cx="77.5" cy="581.25" r="3.1"/><circle cx="85.75" cy="575.25" r="3.1"/><circle cx="95" cy="569" r="3.1"/><circle cx="104.25" cy="563" r="3.1"/><circle cx="113.5" cy="557.75" r="3.1"/><circle cx="124.25" cy="552" r="3.1"/><circle cx="131.75" cy="547" r="3.1"/><circle cx="143.25" cy="542.25" r="3.1"/><circle cx="155" cy="537.25" r="3.1"/><circle cx="166.25" cy="533" r="3.1"/><circle cx="175.75" cy="528.5" r="3.1"/><circle cx="187.25" cy="524.75" r="3.1"/><circle cx="198.75" cy="520.75" r="3.1"/><circle cx="211.25" cy="516.5" r="3.1"/><circle cx="222.5" cy="512.75" r="3.1"/><circle cx="233.25" cy="509.25" r="3.1"/><circle cx="245" cy="505.25" r="3.1"/><circle cx="258.25" cy="501" r="3.1"/><circle cx="272.25" cy="499" r="3.1"/><circle cx="286.25" cy="496.5" r="3.1"/><circle cx="300" cy="493.5" r="3.1"/><circle cx="315" cy="491" r="3.1"/><circle cx="329.75" cy="488.5" r="3.1"/><circle cx="344.75" cy="486" r="3.1"/><circle cx="359" cy="484" r="3.1"/><circle cx="373.75" cy="482" r="3.1"/><circle cx="389.5" cy="480" r="3.1"/><circle cx="403.25" cy="480" r="3.1"/><circle cx="417" cy="480" r="3.1"/><circle cx="431" cy="480" r="3.1"/><circle cx="444.75" cy="480" r="3.1"/><circle cx="458.75" cy="480" r="3.1"/><circle cx="472.75" cy="480" r="3.1"/></g>
<text transform="translate(64.5,360) scale(1,1)" font-size="18.6" fill="#000000" stroke="#000000" stroke-width="0.12" text-anchor="start">(c)</text>
<text transform="translate(57.6,389) scale(1,1)" font-size="19" fill="#008080" stroke="#008080" stroke-width="0.12" text-anchor="start">4.88wt%</text>
<line x1="107.5" y1="394" x2="118.17" y2="405.49" stroke="#008080" stroke-width="1.3" />
<path d="M123.75 411.5L116.34 407.19L120 403.79Z" fill="#008080"/>
<text transform="translate(144.6,459.5) scale(1,1)" font-size="19" fill="#ff0000" stroke="#ff0000" stroke-width="0.12" text-anchor="start">3.79wt%</text>
<line x1="143" y1="458.5" x2="129.88" y2="462.25" stroke="#ff0000" stroke-width="1.3" />
<path d="M122 464.5L129.2 459.84L130.57 464.65Z" fill="#ff0000"/>
<text transform="translate(151.5,512.6) scale(1,1)" font-size="19" fill="#0000ff" stroke="#0000ff" stroke-width="0.12" text-anchor="start">2.34wt%</text>
<line x1="149.5" y1="506.5" x2="136.74" y2="510.98" stroke="#0000ff" stroke-width="1.3" />
<path d="M129 513.7L135.91 508.62L137.57 513.34Z" fill="#0000ff"/>
<text transform="translate(132.8,583.4) scale(1,1)" font-size="19" fill="#ff00ff" stroke="#ff00ff" stroke-width="0.12" text-anchor="start">1.36wt%</text>
<line x1="143" y1="566.5" x2="133.85" y2="558.71" stroke="#ff00ff" stroke-width="1.3" />
<path d="M127.6 553.4L135.47 556.81L132.23 560.62Z" fill="#ff00ff"/>
<text transform="translate(180.8,543) scale(1,1)" font-size="19.05" fill="#000000" stroke="#000000" stroke-width="0.12" text-anchor="start">MgH<tspan font-size="10.86" dy="4.86">2</tspan><tspan dy="-4.86" font-size="19.05">&#8203;</tspan>+7wt%MOFs-V</text>
<text transform="translate(181.1,564.85) scale(1,1)" font-size="19" fill="#000000" stroke="#000000" stroke-width="0.12" text-anchor="start">Iso-rehydrogenation</text>
<line x1="377.3" y1="551" x2="409.6" y2="551" stroke="#008080" stroke-width="1.15" />
<g fill="#008080"><circle cx="393.4" cy="551" r="3.15"/></g>
<text transform="translate(414.5,557.6) scale(1,1)" font-size="18.8" fill="#000000" stroke="#000000" stroke-width="0.12" text-anchor="start">150°C</text>
<line x1="377.3" y1="569.5" x2="409.6" y2="569.5" stroke="#ff0000" stroke-width="1.15" />
<g fill="#ff0000"><circle cx="393.4" cy="569.5" r="3.15"/></g>
<text transform="translate(414.5,576.55) scale(1,1)" font-size="18.8" fill="#000000" stroke="#000000" stroke-width="0.12" text-anchor="start">125°C</text>
<line x1="377.3" y1="588" x2="409.6" y2="588" stroke="#0000ff" stroke-width="1.15" />
<g fill="#0000ff"><circle cx="393.4" cy="588" r="3.15"/></g>
<text transform="translate(414.5,594.7) scale(1,1)" font-size="18.8" fill="#000000" stroke="#000000" stroke-width="0.12" text-anchor="start">100°C</text>
<line x1="377.3" y1="606.75" x2="409.6" y2="606.75" stroke="#ff00ff" stroke-width="1.15" />
<g fill="#ff00ff"><circle cx="393.4" cy="606.75" r="3.15"/></g>
<text transform="translate(414.5,614.05) scale(1,1)" font-size="18.8" fill="#000000" stroke="#000000" stroke-width="0.12" text-anchor="start">75°C</text>
</g>
<g id="pd">
<path d="M565.3 339.65H986.15V623.5" fill="none" stroke="#2e2e2e" stroke-width="1.3"/>
<path d="M565.3 339.15V623.5H986.65" fill="none" stroke="#000" stroke-width="1.25"/>
<line x1="565.25" y1="623.5" x2="565.25" y2="618" stroke="#000000" stroke-width="1.2" />
<text transform="translate(565.25,643.5) scale(1,1)" font-size="18.8" fill="#000000" stroke="#000000" stroke-width="0.12" text-anchor="middle">1.8</text>
<line x1="635.41" y1="623.5" x2="635.41" y2="618" stroke="#000000" stroke-width="1.2" />
<text transform="translate(635.41,643.5) scale(1,1)" font-size="18.8" fill="#000000" stroke="#000000" stroke-width="0.12" text-anchor="middle">2.0</text>
<line x1="705.57" y1="623.5" x2="705.57" y2="618" stroke="#000000" stroke-width="1.2" />
<text transform="translate(705.57,643.5) scale(1,1)" font-size="18.8" fill="#000000" stroke="#000000" stroke-width="0.12" text-anchor="middle">2.2</text>
<line x1="775.73" y1="623.5" x2="775.73" y2="618" stroke="#000000" stroke-width="1.2" />
<text transform="translate(775.73,643.5) scale(1,1)" font-size="18.8" fill="#000000" stroke="#000000" stroke-width="0.12" text-anchor="middle">2.4</text>
<line x1="845.89" y1="623.5" x2="845.89" y2="618" stroke="#000000" stroke-width="1.2" />
<text transform="translate(845.89,643.5) scale(1,1)" font-size="18.8" fill="#000000" stroke="#000000" stroke-width="0.12" text-anchor="middle">2.6</text>
<line x1="916.05" y1="623.5" x2="916.05" y2="618" stroke="#000000" stroke-width="1.2" />
<text transform="translate(916.05,643.5) scale(1,1)" font-size="18.8" fill="#000000" stroke="#000000" stroke-width="0.12" text-anchor="middle">2.8</text>
<line x1="986.21" y1="623.5" x2="986.21" y2="618" stroke="#000000" stroke-width="1.2" />
<text transform="translate(986.21,643.5) scale(1,1)" font-size="18.8" fill="#000000" stroke="#000000" stroke-width="0.12" text-anchor="middle">3.0</text>
<text transform="translate(557.75,346.86) scale(1.087,1.1)" font-size="17.5" fill="#000000" stroke="#000000" stroke-width="0.12" text-anchor="end">−6.0</text>
<line x1="565.3" y1="377.67" x2="570.8" y2="377.67" stroke="#000000" stroke-width="1.2" />
<text transform="translate(557.75,384.63) scale(1.087,1.1)" font-size="17.5" fill="#000000" stroke="#000000" stroke-width="0.12" text-anchor="end">−6.5</text>
<line x1="565.3" y1="415.45" x2="570.8" y2="415.45" stroke="#000000" stroke-width="1.2" />
<text transform="translate(557.75,422.41) scale(1.087,1.1)" font-size="17.5" fill="#000000" stroke="#000000" stroke-width="0.12" text-anchor="end">−7.0</text>
<line x1="565.3" y1="453.22" x2="570.8" y2="453.22" stroke="#000000" stroke-width="1.2" />
<text transform="translate(557.75,460.18) scale(1.087,1.1)" font-size="17.5" fill="#000000" stroke="#000000" stroke-width="0.12" text-anchor="end">−7.5</text>
<line x1="565.3" y1="491" x2="570.8" y2="491" stroke="#000000" stroke-width="1.2" />
<text transform="translate(557.75,497.96) scale(1.087,1.1)" font-size="17.5" fill="#000000" stroke="#000000" stroke-width="0.12" text-anchor="end">−8.0</text>
<line x1="565.3" y1="528.77" x2="570.8" y2="528.77" stroke="#000000" stroke-width="1.2" />
<text transform="translate(557.75,535.73) scale(1.087,1.1)" font-size="17.5" fill="#000000" stroke="#000000" stroke-width="0.12" text-anchor="end">−8.5</text>
<line x1="565.3" y1="566.55" x2="570.8" y2="566.55" stroke="#000000" stroke-width="1.2" />
<text transform="translate(557.75,573.51) scale(1.087,1.1)" font-size="17.5" fill="#000000" stroke="#000000" stroke-width="0.12" text-anchor="end">−9.0</text>
<line x1="565.3" y1="604.33" x2="570.8" y2="604.33" stroke="#000000" stroke-width="1.2" />
<text transform="translate(557.75,611.28) scale(1.087,1.1)" font-size="17.5" fill="#000000" stroke="#000000" stroke-width="0.12" text-anchor="end">−9.5</text>
<text transform="translate(775.3,663.5) scale(1,1)" font-size="18.85" fill="#000000" stroke="#000000" stroke-width="0.12" text-anchor="middle">(1000/<tspan font-style="italic">T</tspan>) / K<tspan font-size="10.74" dy="-7.16">−1</tspan><tspan dy="7.16" font-size="18.85">&#8203;</tspan></text>
<text transform="translate(517.8,481.5) rotate(-90) scale(1,1)" font-size="18.6" fill="#000000" stroke="#000000" stroke-width="0.12" text-anchor="middle">ln<tspan font-style="italic">k</tspan></text>
<line x1="604.1" y1="374.07" x2="716.25" y2="596.4" stroke="#ff0000" stroke-width="1.35" stroke-dasharray="4.7 5.25"/>
<line x1="762.65" y1="371.83" x2="941.1" y2="511.2" stroke="#000000" stroke-width="1.35" stroke-dasharray="4.5 4.7"/>
<line x1="820.2" y1="416.8" x2="824.7" y2="420.3" stroke="#fff" stroke-width="3.2" />
<g fill="#ff0000"><circle cx="604.1" cy="368" r="3.85"/><circle cx="637.7" cy="448.25" r="3.85"/><circle cx="675.05" cy="517.2" r="3.85"/><circle cx="716.25" cy="593" r="3.85"/></g>
<g fill="#000000"><rect x="759.3" y="369.45" width="6.7" height="6.7"/><rect x="811.1" y="403.45" width="6.7" height="6.7"/><rect x="870.45" y="463.75" width="6.7" height="6.7"/><rect x="937.75" y="505.65" width="6.7" height="6.7"/></g>
<text transform="translate(577.75,360.75) scale(1,1)" font-size="18.6" fill="#000000" stroke="#000000" stroke-width="0.12" text-anchor="start">(d)</text>
<text transform="translate(792.25,360.25) scale(1,1)" font-size="16.5" fill="#000000" stroke="#000000" stroke-width="0.12" text-anchor="start">MgH<tspan font-size="9.4" dy="4.21">2</tspan><tspan dy="-4.21" font-size="16.5">&#8203;</tspan>+7wt%MOFs-V</text>
<text transform="translate(831.6,380.25) scale(1,1)" font-size="16.5" fill="#000000" stroke="#000000" stroke-width="0.12" text-anchor="start"><tspan font-style="italic">y</tspan> = −3.65<tspan font-style="italic">x</tspan> + 2.19</text>
<text transform="translate(832.25,400.25) scale(1,1)" font-size="16.5" fill="#000000" stroke="#000000" stroke-width="0.12" text-anchor="start"><tspan font-style="italic">R</tspan><tspan font-size="9.4" dy="-6.27">2</tspan><tspan dy="6.27" font-size="16.5">&#8203;</tspan> = 0.986</text>
<text transform="translate(832.25,420.75) scale(1,1)" font-size="16.5" fill="#000000" stroke="#000000" stroke-width="0.12" text-anchor="start"><tspan font-style="italic">E</tspan><tspan font-size="9.4" dy="4.21">a</tspan><tspan dy="-4.21" font-size="16.5">&#8203;</tspan> = 30.3 ± 2.1 kJ/mol</text>
<text transform="translate(706,487.75) scale(1,1)" font-size="16.5" fill="#ff0000" stroke="#ff0000" stroke-width="0.12" text-anchor="start">As-prepared&#160; MgH<tspan font-size="9.4" dy="4.21">2</tspan><tspan dy="-4.21" font-size="16.5">&#8203;</tspan></text>
<text transform="translate(706,511.5) scale(1,1)" font-size="16.5" fill="#ff0000" stroke="#ff0000" stroke-width="0.12" text-anchor="start"><tspan font-style="italic">y</tspan> = −9.41<tspan font-style="italic">x</tspan> + 11.14</text>
<text transform="translate(707,531.5) scale(1,1)" font-size="16.5" fill="#ff0000" stroke="#ff0000" stroke-width="0.12" text-anchor="start"><tspan font-style="italic">R</tspan><tspan font-size="9.4" dy="-6.27">2</tspan><tspan dy="6.27" font-size="16.5">&#8203;</tspan> = 0.994</text>
<text transform="translate(707,552.25) scale(1,1)" font-size="16.5" fill="#ff0000" stroke="#ff0000" stroke-width="0.12" text-anchor="start"><tspan font-style="italic">E</tspan><tspan font-size="9.4" dy="4.21">a</tspan><tspan dy="-4.21" font-size="16.5">&#8203;</tspan> = 78.2 ± 3.4 kJ/mol</text>
</g>
</svg></body></html>
